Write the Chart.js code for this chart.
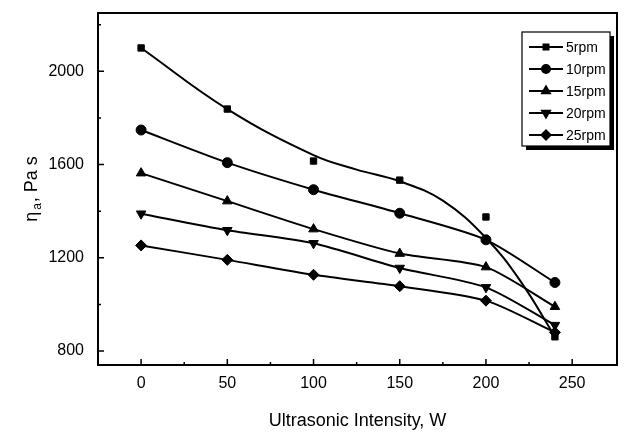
<!DOCTYPE html>
<html>
<head>
<meta charset="utf-8">
<script src="https://cdn.jsdelivr.net/npm/chart.js@4"></script>
<style>
  html, body { margin: 0; padding: 0; background: #fff; }
  #wrap { width: 636px; height: 442px; }
</style>
</head>
<body>
<div id="wrap"><canvas id="chart" width="636" height="442"></canvas></div>
<script>
// values
const intensity = [0, 50, 100, 150, 200, 240];
const rpm5 = [2100, 1838, 1615, 1533, 1375, 861];
const rpm10 = [1748, 1608, 1492, 1391, 1277, 1094];
const rpm15 = [1563, 1443, 1323, 1218, 1160, 990];
const rpm20 = [1389, 1318, 1262, 1156, 1073, 911];
const rpm25 = [1253, 1191, 1127, 1078, 1016, 880];
// fitted curve of the 5rpm series (it does not pass through every point)
const fit5X = [0, 50, 100, 125, 150, 175, 200, 220, 240];
const fit5Y = [2100, 1838, 1640, 1578, 1528, 1445, 1285, 1100, 862];

const seriesNames = ["5rpm", "10rpm", "15rpm", "20rpm", "25rpm"];
const xTicks = [0, 50, 100, 150, 200, 250];
const yTicks = [800, 1200, 1600, 2000];
const xMinor = [25, 75, 125, 175, 225];
const yMinor = [1000, 1400, 1800, 2200];

const styles = [
  { pointStyle: "rect", radius: 4.5, rotation: 0 },
  { pointStyle: "circle", radius: 5, rotation: 0 },
  { pointStyle: "triangle", radius: 5.5, rotation: 0 },
  { pointStyle: "triangle", radius: 5.5, rotation: 180 },
  { pointStyle: "rectRot", radius: 5.5, rotation: 0 }
];

const pts = (xs, ys) => xs.map((x, i) => ({ x: x, y: ys[i] }));
const allSeries = [rpm5, rpm10, rpm15, rpm20, rpm25];

const datasets = [];
// 5rpm fit curve
datasets.push({
  data: pts(fit5X, fit5Y),
  showLine: true, pointRadius: 0, borderColor: "#000", borderWidth: 2,
  tension: 0.4
});
allSeries.forEach((s, i) => {
  datasets.push({
    label: seriesNames[i],
    data: pts(intensity, s),
    showLine: i !== 0,
    borderColor: "#000",
    borderWidth: 2,
    tension: 0.25,
    pointStyle: styles[i].pointStyle,
    pointRotation: styles[i].rotation,
    pointRadius: styles[i].radius,
    pointBackgroundColor: "#000",
    pointBorderColor: "#000",
    pointBorderWidth: 1
  });
});

const FONT = "Arial, 'Liberation Sans', sans-serif";

const decor = {
  id: "decor",
  afterDraw(chart) {
    const c = chart.ctx, a = chart.chartArea;
    const xs = chart.scales.x, ys = chart.scales.y;
    c.save();
    c.strokeStyle = "#000";
    c.lineWidth = 2;
    c.strokeRect(a.left, a.top, a.right - a.left, a.bottom - a.top);

    // inward ticks
    c.lineWidth = 1.5;
    c.beginPath();
    xTicks.forEach(v => { const p = xs.getPixelForValue(v); c.moveTo(p, a.bottom); c.lineTo(p, a.bottom - 6); });
    xMinor.forEach(v => { const p = xs.getPixelForValue(v); c.moveTo(p, a.bottom); c.lineTo(p, a.bottom - 3); });
    yTicks.forEach(v => { const p = ys.getPixelForValue(v); c.moveTo(a.left, p); c.lineTo(a.left + 6, p); });
    yMinor.forEach(v => { const p = ys.getPixelForValue(v); c.moveTo(a.left, p); c.lineTo(a.left + 3, p); });
    c.stroke();

    // axis titles
    c.fillStyle = "#000";
    c.font = "18px " + FONT;
    c.textAlign = "center";
    c.textBaseline = "middle";
    c.fillText("Ultrasonic Intensity, W", (a.left + a.right) / 2, 421);

    c.translate(31, (a.top + a.bottom) / 2);
    c.rotate(-Math.PI / 2);
    c.textAlign = "left";
    c.textBaseline = "alphabetic";
    const p1 = "η", p2 = "a", p3 = ", Pa s";
    c.font = "18px " + FONT;
    const w1 = c.measureText(p1).width;
    const w3 = c.measureText(p3).width;
    c.font = "12px " + FONT;
    const w2 = c.measureText(p2).width + 3;
    const total = w1 + w2 + w3;
    let x0 = -total / 2;
    c.font = "18px " + FONT;
    c.fillText(p1, x0, 6);
    c.font = "12px " + FONT;
    c.fillText(p2, x0 + w1 + 2, 10);
    c.font = "18px " + FONT;
    c.fillText(p3, x0 + w1 + w2, 6);
    c.setTransform(1, 0, 0, 1, 0, 0);

    // legend box with shadow
    const bx = 522, by = 32, bw = 88, bh = 114;
    c.fillStyle = "#000";
    c.fillRect(bx + 4, by + 4, bw, bh);
    c.fillStyle = "#fff";
    c.fillRect(bx, by, bw, bh);
    c.lineWidth = 1.2;
    c.strokeStyle = "#000";
    c.strokeRect(bx, by, bw, bh);
    c.font = "14px " + FONT;
    c.textAlign = "left";
    c.textBaseline = "middle";
    seriesNames.forEach((n, i) => {
      const yy = 47 + i * 22;
      c.lineWidth = 2;
      c.beginPath();
      c.moveTo(529, yy); c.lineTo(563, yy);
      c.stroke();
      c.fillStyle = "#000";
      Chart.helpers.drawPoint(c, {
        pointStyle: styles[i].pointStyle,
        rotation: styles[i].rotation,
        radius: styles[i].radius - 1,
        borderWidth: 1
      }, 546, yy);
      c.fillStyle = "#000";
      c.fillText(n, 566, yy + 1);
    });
    c.restore();
  }
};

new Chart(document.getElementById("chart").getContext("2d"), {
  type: "scatter",
  data: { datasets: datasets },
  options: {
    responsive: false,
    animation: false,
    layout: { padding: { top: 13, right: 19, left: 0, bottom: 0 } },
    plugins: { legend: { display: false }, tooltip: { enabled: false } },
    scales: {
      x: {
        type: "linear", min: -25, max: 276,
        grid: { display: false, drawTicks: false },
        border: { display: false },
        afterFit(s) { s.height = 77; s.paddingLeft = 0; s.paddingRight = 0; },
        afterBuildTicks(s) { s.ticks = xTicks.map(v => ({ value: v })); },
        ticks: { color: "#000", font: { size: 16, family: FONT }, padding: 9, maxRotation: 0, callback: v => String(v) }
      },
      y: {
        type: "linear", min: 740, max: 2250,
        grid: { display: false, drawTicks: false },
        border: { display: false },
        afterFit(s) { s.width = 98; s.paddingTop = 0; s.paddingBottom = 0; },
        afterBuildTicks(s) { s.ticks = yTicks.map(v => ({ value: v })); },
        ticks: { color: "#000", font: { size: 16, family: FONT }, padding: 14, callback: v => String(v) }
      }
    }
  },
  plugins: [decor]
});
</script>
</body>
</html>
